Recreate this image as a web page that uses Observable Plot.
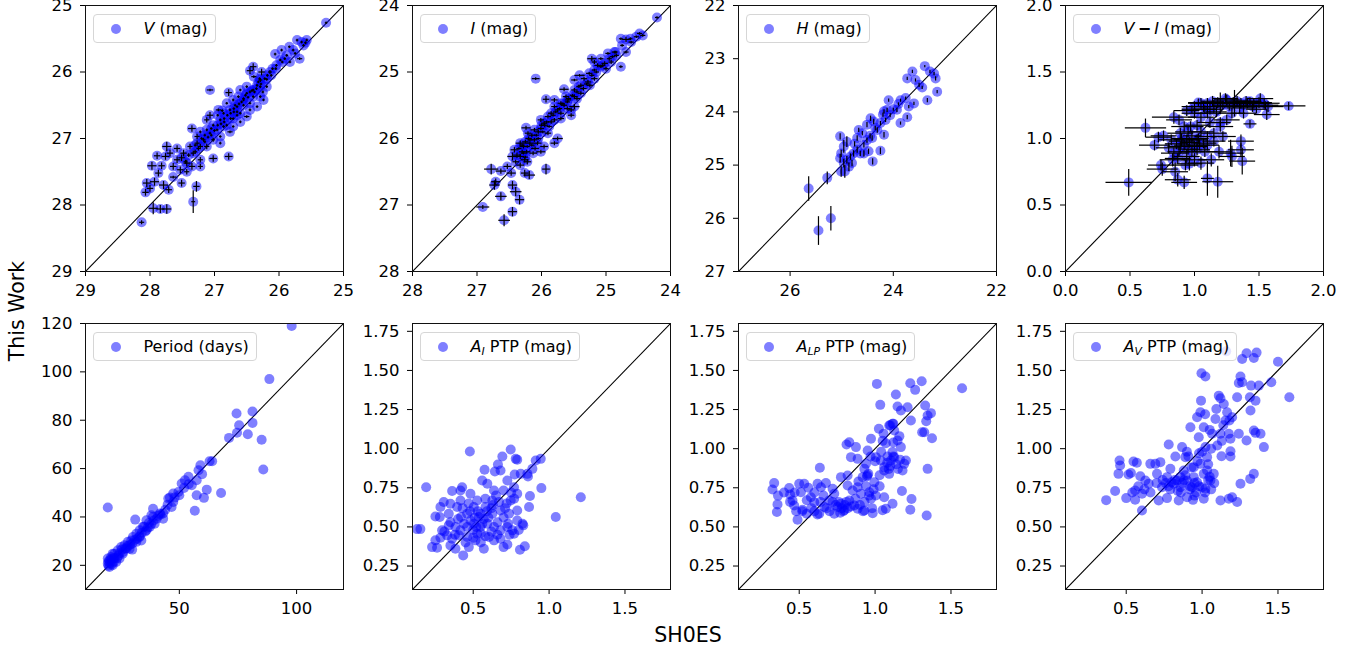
<!DOCTYPE html>
<html>
<head>
<meta charset="utf-8">
<script src="https://cdn.jsdelivr.net/npm/d3@7"></script>
<script src="https://cdn.jsdelivr.net/npm/@observablehq/plot@0.6"></script>
<style>
  html, body { margin: 0; padding: 0; background: #fff; }
  #fig { position: relative; width: 1360px; height: 649px; overflow: hidden; font-family: "DejaVu Sans", sans-serif; }
  .panel { position: absolute; }
  .legend { position: absolute; height: 29px; box-sizing: border-box; border: 1px solid #d6d6d6; border-radius: 4px;
            background: rgba(255,255,255,0.8); display: flex; align-items: center; padding: 0 7px 0 17px;
            font-size: 16px; color: #000; white-space: nowrap; }
  .legend .mk { width: 10px; height: 10px; border-radius: 50%; background: rgba(0,0,255,0.5); flex: none; }
  .legend .tx { margin-left: 23px; }
  .legend sub { font-size: 68%; vertical-align: -0.3em; line-height: 0; }
  .axlabel { position: absolute; font-size: 20.5px; line-height: 1; white-space: nowrap; color: #000; }
</style>
</head>
<body>
<div id="fig"></div>
<script>
// ---------- Data (x = SH0ES, y = This Work) ----------
const V_x = [25.27,25.65,25.72,25.59,25.84,25.78,25.68,25.83,25.91,25.98,
  26.06,26.04,26.45,26.27,26.39,26.19,26.34,26.60,26.50,26.40,
  26.29,26.71,26.55,26.45,26.65,26.76,26.86,26.94,26.60,26.50,
  26.71,26.91,26.81,27.02,27.07,26.78,27.07,27.12,27.22,27.35,
  27.27,27.17,27.02,26.91,26.76,26.78,27.02,27.38,27.48,27.33,
  27.22,27.43,27.58,27.64,27.53,27.43,27.35,27.74,27.89,27.76,
  27.97,27.82,28.05,27.93,28.00,28.07,27.79,27.71,27.64,27.51,
  27.95,27.84,27.74,27.33,27.28,28.13,27.87,27.22,27.12,27.58,
  26.96,26.86,26.71,26.60,26.65,26.45,26.34,26.24,26.40,26.29,
  26.19,26.50,26.63,26.81,26.91,27.07,27.12,27.27,27.51,27.69,
  27.22,26.40,26.14,26.29,25.96,25.57,
  26.85,26.70,26.55,26.95,27.05,26.30,26.25,27.15,27.30,26.05,
  26.90,26.85,26.80,26.75,26.70,26.68,26.62,26.58,26.55,26.52,
  26.48,26.45,26.42,26.38,26.35,26.32,26.28,26.22,26.18,26.12,
  26.10,27.00,27.05,27.10,27.15,27.20,27.25,27.30,27.40,27.45,
  26.75,26.65,26.95,26.88,25.88,25.95,25.75,25.62];
const V_y = [25.26,25.55,25.52,25.56,25.62,25.67,25.80,25.85,25.80,25.82,
  25.73,25.90,25.98,26.00,26.07,26.11,26.20,26.27,26.32,26.37,
  26.37,26.42,26.42,26.47,26.52,26.57,26.62,26.57,26.62,26.67,
  26.70,26.72,26.80,26.80,26.27,26.31,26.65,26.87,26.90,26.85,
  26.97,27.02,27.02,27.07,26.90,27.27,27.30,27.12,27.22,27.22,
  27.32,27.37,27.32,27.42,27.47,27.50,27.42,27.12,27.26,27.27,
  27.41,27.41,27.67,27.65,27.75,27.81,27.70,27.77,27.58,27.67,
  28.05,28.06,28.06,27.95,27.72,28.26,27.52,27.12,27.12,27.15,
  26.87,26.82,26.82,26.75,26.60,26.57,26.52,26.42,26.27,26.22,
  26.22,26.22,26.37,26.47,26.97,26.92,26.72,27.07,27.29,27.22,
  27.42,25.92,26.00,26.12,25.67,25.52,
  26.70,26.55,26.50,26.80,26.95,26.10,26.30,26.95,27.10,25.95,
  26.78,26.75,26.65,26.62,26.60,26.50,26.48,26.45,26.40,26.35,
  26.38,26.30,26.28,26.30,26.25,26.15,26.18,26.10,26.05,26.05,
  25.95,26.88,26.85,26.98,27.05,27.00,27.15,27.20,27.25,27.35,
  26.70,26.65,26.65,26.58,25.75,25.85,25.72,25.60];
const V_ex = [.02,.02,.02,.02,.02,.02,.04,.02,.02,.02,
  .02,.02,.05,.05,.04,.02,.02,.02,.02,.02,
  .02,.02,.02,.02,.02,.02,.02,.04,.02,.04,
  .02,.02,.02,.02,.05,.05,.05,.02,.02,.06,
  .04,.03,.03,.02,.04,.06,.06,.04,.05,.04,
  .04,.05,.05,.05,.05,.04,.05,.07,.05,.06,
  .07,.05,.06,.07,.05,.05,.07,.05,.05,.05,
  .07,.06,.07,.03,.05,.04,.05,.04,.04,.05,
  .02,.02,.02,.02,.02,.02,.02,.02,.02,.02,
  .02,.02,.02,.02,.02,.02,.04,.04,.05,.05,
  .04,.05,.03,.03,.02,.02,
  .02,.02,.02,.02,.02,.02,.02,.02,.02,.02,
  .02,.02,.02,.02,.02,.02,.02,.02,.02,.02,
  .02,.02,.02,.02,.02,.02,.02,.02,.02,.02,
  .02,.02,.02,.02,.02,.02,.03,.03,.03,.03,
  .02,.02,.02,.02,.02,.02,.02,.02];
const V_ey = [.02,.02,.02,.02,.02,.02,.02,.02,.02,.02,
  .02,.02,.05,.05,.02,.02,.02,.02,.02,.02,
  .02,.02,.02,.02,.02,.02,.02,.02,.02,.02,
  .02,.02,.02,.02,.02,.05,.05,.02,.02,.05,
  .04,.03,.03,.02,.02,.05,.05,.04,.05,.04,
  .04,.05,.05,.05,.05,.04,.05,.07,.05,.05,
  .06,.05,.06,.06,.05,.05,.06,.05,.02,.05,
  .09,.06,.07,.17,.08,.03,.05,.04,.04,.05,
  .02,.02,.02,.02,.02,.02,.02,.02,.02,.02,
  .02,.02,.02,.02,.02,.02,.04,.04,.05,.05,
  .04,.05,.03,.03,.02,.02,
  .02,.02,.02,.02,.02,.02,.02,.02,.02,.02,
  .02,.02,.02,.02,.02,.02,.02,.02,.02,.02,
  .02,.02,.02,.02,.02,.02,.02,.02,.02,.02,
  .02,.02,.02,.02,.02,.02,.03,.03,.03,.03,
  .02,.02,.02,.02,.02,.02,.02,.02];

const I_x = [24.21,24.77,24.69,24.61,24.53,24.48,24.43,24.69,24.77,24.97,
  24.90,25.08,25.22,24.87,25.08,25.18,25.26,25.41,25.49,26.09,
  25.65,25.93,25.80,25.70,25.59,25.49,25.39,25.54,25.75,25.85,
  25.49,25.54,25.80,25.96,26.01,25.90,26.24,26.11,25.75,26.01,
  26.18,26.28,26.33,26.23,26.13,26.45,26.78,26.63,26.71,26.73,
  26.53,26.47,26.45,26.40,26.34,26.63,26.19,25.93,26.91,26.58,
  26.45,26.21,26.11,26.01,25.90,25.70,25.80,25.62,25.49,25.39,
  25.28,25.18,25.34,25.13,25.02,24.92,24.84,25.18,26.33,26.26,
  26.33,26.42,26.06,25.96,25.80,26.26,
  26.20,26.15,26.30,26.25,26.05,25.95,25.85,25.65,25.60,25.45,
  25.35,25.25,25.00,24.95,26.38,26.10,25.70,26.22,
  26.35,26.30,26.28,26.22,26.18,26.15,26.08,26.05,26.00,25.98,
  25.92,25.88,25.82,25.78,25.72,25.68,25.60,25.58,25.52,25.45,
  25.42,25.30,25.22,25.15,25.05,24.85,24.75,24.62,26.40,26.25];
const I_y = [24.18,24.50,24.51,24.55,24.47,24.42,24.45,24.70,24.92,24.72,
  24.77,24.80,24.80,24.70,24.92,24.97,25.02,25.05,25.12,25.10,
  25.26,25.41,25.42,25.47,25.42,25.37,25.32,25.57,25.57,25.62,
  25.52,25.65,25.72,25.77,25.85,25.92,25.84,25.87,26.00,26.20,
  26.07,26.12,26.07,26.20,26.22,26.27,26.46,26.49,26.65,26.70,
  26.42,26.52,26.70,26.80,26.92,26.87,26.55,26.46,27.03,27.23,
  27.10,25.92,26.02,25.72,25.67,25.62,25.52,25.37,25.27,25.20,
  25.15,25.10,25.10,24.90,24.87,24.85,24.75,24.85,26.27,26.32,
  26.40,26.17,26.07,26.12,26.07,26.52,
  26.00,25.95,26.20,26.05,25.90,25.80,25.75,25.50,25.55,25.40,
  25.25,25.20,24.95,24.80,26.25,26.15,25.70,26.35,
  26.15,26.10,26.22,26.12,26.02,26.10,25.95,26.00,25.80,25.90,
  25.75,25.82,25.65,25.60,25.55,25.48,25.45,25.40,25.35,25.30,
  25.22,25.18,25.05,25.00,24.90,24.70,24.60,24.50,26.35,26.28];
const I_ex = [.03,.03,.06,.04,.04,.04,.04,.04,.03,.04,
  .04,.04,.07,.04,.04,.04,.05,.08,.05,.06,
  .07,.05,.05,.05,.05,.05,.05,.05,.05,.05,
  .08,.05,.05,.05,.05,.05,.07,.06,.08,.07,
  .06,.06,.07,.06,.06,.08,.11,.08,.07,.08,
  .06,.07,.07,.09,.07,.09,.09,.06,.10,.09,
  .07,.05,.05,.05,.05,.05,.05,.05,.05,.05,
  .05,.05,.05,.05,.05,.04,.04,.04,.06,.06,
  .06,.06,.06,.06,.06,.06,
  .05,.05,.05,.05,.05,.05,.05,.05,.05,.05,
  .05,.05,.04,.04,.06,.06,.05,.06,
  .04,.04,.04,.04,.04,.04,.04,.04,.04,.04,
  .04,.04,.04,.04,.04,.04,.04,.04,.04,.04,
  .04,.04,.04,.04,.04,.03,.03,.03,.05,.04];
const I_ey = [.02,.02,.04,.02,.02,.02,.02,.02,.02,.02,
  .02,.02,.04,.02,.02,.02,.02,.02,.02,.02,
  .03,.05,.03,.03,.03,.03,.03,.03,.03,.03,
  .04,.03,.03,.03,.03,.03,.03,.03,.03,.03,
  .03,.03,.04,.03,.03,.06,.08,.04,.05,.07,
  .04,.04,.06,.07,.07,.06,.06,.08,.03,.09,
  .07,.03,.03,.03,.03,.03,.03,.03,.03,.03,
  .03,.03,.03,.03,.03,.03,.03,.03,.04,.04,
  .04,.04,.03,.03,.03,.05,
  .03,.03,.03,.03,.03,.03,.03,.03,.03,.03,
  .03,.03,.03,.03,.04,.03,.03,.04,
  .02,.02,.02,.02,.02,.02,.02,.02,.02,.02,
  .02,.02,.02,.02,.02,.02,.02,.02,.02,.02,
  .02,.02,.02,.02,.02,.02,.02,.02,.03,.02];

const H_x = [23.39,23.29,23.63,23.21,23.18,23.73,23.57,23.50,23.44,23.15,
  23.34,23.60,23.70,23.86,23.76,23.93,24.09,23.73,23.86,24.12,
  24.18,24.06,24.15,24.25,24.18,24.38,24.44,24.51,24.31,24.41,
  24.67,24.51,24.57,24.70,24.25,24.40,24.48,24.57,24.70,24.77,
  24.83,24.90,24.96,25.03,24.96,24.90,25.01,25.03,24.86,25.01,
  24.94,24.80,24.64,25.28,25.64,25.21,25.45,
  24.60,24.35,24.20,24.00,23.90,24.45,24.75];
const H_y = [23.14,23.24,23.24,23.28,23.37,23.37,23.40,23.49,23.54,23.62,
  23.78,23.84,23.90,23.78,23.74,23.96,23.78,24.10,24.21,23.96,
  23.99,24.06,24.15,24.21,24.43,24.18,24.12,24.24,24.34,24.49,
  24.34,24.53,24.62,24.49,24.73,24.93,24.74,24.78,24.71,24.78,
  24.84,24.90,24.96,24.46,24.65,24.56,24.78,24.87,25.03,25.12,
  25.12,24.96,24.78,25.24,25.44,26.00,26.23,
  24.40,24.30,24.05,23.95,23.85,24.45,24.60];
const H_ey = [.02,.03,.03,.03,.04,.03,.03,.04,.03,.03,
  .04,.03,.03,.03,.03,.04,.03,.04,.03,.04,
  .04,.04,.04,.04,.05,.05,.05,.05,.05,.05,
  .04,.05,.05,.05,.06,.06,.05,.06,.06,.06,
  .06,.07,.08,.06,.12,.10,.07,.08,.08,.10,
  .12,.06,.05,.12,.23,.23,.27,
  .04,.04,.04,.03,.03,.05,.05];

const VI_x = [0.49,0.62,0.69,0.72,0.76,0.74,0.75,0.84,0.85,0.87,
  0.92,0.96,0.87,0.89,0.84,0.89,0.94,1.00,1.02,0.97,
  1.00,1.05,1.10,1.15,1.07,1.00,0.94,1.05,1.10,1.20,
  1.25,1.24,1.31,1.36,1.41,1.46,1.51,1.54,1.57,1.56,
  1.73,1.43,1.38,1.29,1.25,1.20,1.15,1.10,1.07,1.02,
  1.05,1.13,1.19,1.10,1.18,1.28,1.29,1.36,1.36,1.37,
  1.22,0.88,0.92,0.82,0.80,0.83,0.94,1.00,
  1.12,1.18,1.30,1.45,1.35,1.02,0.95,0.90,1.05,1.12,1.08,0.98,0.93,1.50,1.40,
  0.98,1.03,1.08,1.14,1.22,1.27,1.33,1.38,1.43,1.48,1.55,0.90,0.92,0.96,0.98,
  1.03,0.86,0.88,0.95,1.04,1.10,1.15,1.20,1.17];
const VI_y = [0.67,1.08,0.95,1.01,1.02,0.80,0.77,1.16,0.75,0.69,
  0.67,0.81,0.85,0.94,0.89,1.04,0.99,0.94,0.99,1.09,
  1.19,1.16,1.19,1.24,1.24,1.24,1.21,1.265,1.265,1.265,
  1.29,1.30,1.265,1.265,1.265,1.265,1.30,1.265,1.24,1.18,
  1.245,1.11,1.19,1.19,1.14,1.09,1.04,1.015,0.965,0.915,
  0.815,0.84,0.90,0.70,0.675,0.89,0.865,0.98,0.915,0.83,
  1.015,1.14,1.09,0.99,0.93,0.84,0.865,0.84,
  1.22,1.27,1.27,1.24,1.23,1.10,1.05,0.98,1.05,1.12,0.90,0.90,0.80,1.27,1.28,
  1.22,1.27,1.22,1.28,1.25,1.24,1.28,1.25,1.28,1.22,1.25,1.00,0.95,0.97,1.02,
  1.00,0.96,0.90,0.92,0.95,0.95,0.98,1.12,1.20];
const VI_ex = [.18,.16,.12,.10,.10,.10,.12,.17,.10,.10,
  .10,.10,.10,.10,.10,.10,.10,.10,.08,.10,
  .10,.10,.10,.10,.10,.10,.10,.10,.10,.10,
  .10,.10,.10,.10,.10,.12,.10,.12,.12,.10,
  .13,.05,.10,.10,.10,.10,.10,.10,.10,.10,
  .10,.10,.10,.05,.12,.10,.10,.10,.10,.10,
  .10,.10,.10,.10,.10,.10,.10,.10,
  .10,.10,.10,.10,.10,.10,.10,.10,.10,.10,.10,.10,.10,.10,.10,
  .08,.08,.09,.09,.08,.09,.09,.08,.09,.08,.10,.08,.08,.07,.07,
  .08,.09,.09,.08,.08,.09,.09,.08,.08];
const VI_ey = [.10,.07,.04,.04,.04,.04,.05,.05,.07,.05,
  .05,.05,.04,.04,.04,.04,.04,.04,.04,.04,
  .04,.04,.04,.05,.04,.04,.04,.04,.04,.08,
  .04,.04,.10,.04,.04,.04,.04,.04,.04,.04,
  .03,.03,.04,.04,.04,.04,.04,.04,.04,.04,
  .05,.05,.05,.13,.12,.10,.08,.05,.05,.10,
  .04,.04,.04,.04,.04,.05,.05,.05,
  .04,.04,.04,.04,.04,.04,.04,.04,.04,.04,.04,.04,.04,.04,.04,
  .03,.03,.03,.04,.03,.03,.04,.03,.03,.03,.03,.04,.04,.04,.04,
  .04,.04,.04,.04,.04,.04,.04,.04,.04];

const P_x = [97.9,88.4,74.4,81.2,81.2,75.5,74.6,71.2,79.2,85.1,
  85.8,62.9,59.0,59.7,61.7,60.5,57.4,67.8,56.6,55.3,
  53.9,52.4,51.0,57.4,58.2,49.6,47.4,47.4,45.3,46.7,
  43.1,41.7,38.8,38.1,36.0,31.2,19.5,34.5,33.1,31.7,
  30.2,29.5,28.1,26.6,29.9,33.8,36.0,37.4,39.5,40.3,
  25.2,23.8,22.3,20.9,20.2,19.5,20.2,21.6,23.1,24.5,
  25.9,22.3,19.5,21.6,28.8,31.7,33.1,38.8,43.1,
  27.0,30.0,32.0,34.0,35.5,37.0,39.0,41.0,44.0,48.0,
  50.0,54.0,24.0,22.0,21.0,26.0,28.0,19.8,64.0,
  20.5,21.2,22.0,23.5,24.5,25.5,27.5,29.0,31.0,33.0,
  35.0,36.5,38.0,42.0,45.0,46.0,52.0,19.8];
const P_y = [119.0,97.0,82.8,83.6,78.9,77.9,74.8,72.7,74.2,71.9,
  59.6,63.0,61.4,57.7,51.3,47.9,49.0,49.9,42.6,53.1,
  56.6,55.2,53.8,55.2,59.3,50.3,49.7,46.2,47.6,44.1,
  39.3,41.4,43.4,40.7,38.6,38.9,43.9,35.9,34.5,33.1,
  31.7,30.3,29.7,28.3,26.5,30.3,34.5,35.9,37.2,39.3,
  27.6,26.2,24.8,23.4,22.1,20.7,19.3,20.0,21.4,22.8,
  24.8,22.8,22.8,24.8,26.9,29.7,31.7,40.0,41.4,
  27.0,29.0,31.0,33.5,34.0,37.5,38.5,40.5,43.0,48.0,
  49.0,53.5,24.0,21.5,22.5,25.5,28.0,21.5,63.0,
  21.0,20.5,23.0,23.0,25.0,26.5,27.0,28.5,30.5,32.0,
  36.0,35.5,37.0,41.0,45.0,48.0,52.0,19.8];

const AI_x = [0.152,0.13,0.19,0.478,0.747,0.692,0.79,0.78,0.945,0.912,
  0.89,0.857,0.813,0.773,0.663,0.68,0.575,0.643,0.725,0.861,
  0.949,0.874,0.868,1.209,1.044,0.79,0.747,0.769,0.70,0.637,
  0.593,0.559,0.526,0.482,0.427,0.361,0.306,0.284,0.251,0.28,
  0.339,0.35,0.394,0.416,0.46,0.504,0.548,0.581,0.626,0.68,
  0.736,0.79,0.825,0.83,0.80,0.758,0.725,0.68,0.637,0.593,
  0.548,0.504,0.46,0.416,0.383,0.339,0.295,0.328,0.284,0.251,
  0.229,0.262,0.35,0.383,0.434,0.471,0.515,0.57,0.637,0.70,
  0.725,0.808,0.84,0.68,0.604,0.526,0.46,0.405,0.361,0.769,
  0.79,0.626,0.537,0.482,0.42,0.416,
  0.50,0.52,0.55,0.57,0.60,0.62,0.48,0.44,0.53,0.66,
  0.70,0.58,0.65,0.72,0.75,0.38,0.45,0.55,0.62,0.74,
  0.40,0.43,0.47,0.51,0.56,0.59,0.63,0.67,0.71,0.77,0.35,0.31,0.50,0.58,0.66,0.73];
const AI_y = [0.486,0.486,0.754,0.982,0.995,0.95,0.93,0.935,0.935,0.925,
  0.871,0.839,0.839,0.835,0.899,0.86,0.865,0.854,0.797,0.822,
  0.748,0.697,0.627,0.69,0.563,0.712,0.669,0.754,0.733,0.733,
  0.776,0.797,0.669,0.712,0.754,0.729,0.659,0.627,0.567,0.563,
  0.584,0.648,0.627,0.669,0.584,0.627,0.584,0.627,0.584,0.605,
  0.584,0.541,0.52,0.51,0.48,0.478,0.499,0.478,0.499,0.52,
  0.499,0.52,0.499,0.478,0.499,0.51,0.478,0.446,0.431,0.414,
  0.371,0.367,0.382,0.36,0.318,0.371,0.414,0.36,0.414,0.371,
  0.388,0.354,0.376,0.424,0.435,0.457,0.435,0.446,0.424,0.457,
  0.605,0.669,0.563,0.541,0.563,0.733,
  0.48,0.50,0.46,0.55,0.56,0.62,0.60,0.52,0.60,0.53,
  0.56,0.68,0.70,0.65,0.72,0.45,0.40,0.40,0.47,0.45,
  0.55,0.62,0.65,0.56,0.52,0.60,0.64,0.66,0.62,0.68,0.53,0.47,0.43,0.44,0.45,0.52];

const ALP_x = [0.324,0.335,0.353,0.357,0.434,0.44,0.456,0.467,0.489,0.50,
  0.511,0.533,0.522,0.55,0.577,0.599,0.636,0.621,0.643,0.676,
  0.632,0.665,0.698,0.731,0.731,0.72,0.775,0.819,0.812,0.83,
  0.874,0.885,0.841,0.775,0.797,0.753,0.83,0.852,0.819,0.885,
  0.907,0.918,0.929,0.94,0.951,0.973,0.955,0.946,0.995,0.962,
  0.973,0.984,0.929,0.885,1.012,1.034,1.025,1.056,1.071,1.082,
  1.005,1.038,1.06,1.093,1.06,1.126,1.104,1.115,1.093,1.115,
  1.126,1.148,1.17,1.165,1.192,1.181,1.203,1.137,1.148,1.17,
  1.214,1.236,1.232,1.264,1.307,1.324,1.33,1.346,1.368,1.337,
  1.375,1.346,1.177,1.232,1.24,1.34,1.573,1.06,1.049,1.071,
  1.115,1.005,0.863,
  0.78,0.80,0.79,0.76,0.82,0.95,0.96,0.93,0.98,0.92,
  0.70,0.66,0.60,0.55,0.47,1.10,1.12,1.09,1.03,1.10,
  1.15,0.60,0.52,0.56,1.31,
  0.74,0.77,0.81,0.84,0.87,0.90,0.72,0.68,0.64,0.58,
  0.62,0.48,0.44,1.00,1.04,1.08,1.12,1.14,0.97,0.94,
  0.99,1.03,0.89,1.12,1.16,1.05,0.40,0.36];
const ALP_y = [0.739,0.78,0.595,0.644,0.748,0.707,0.669,0.637,0.546,0.776,
  0.722,0.776,0.61,0.584,0.69,0.658,0.878,0.776,0.754,0.78,
  0.584,0.627,0.669,0.712,0.584,0.744,0.818,0.829,1.027,1.041,
  1.01,0.935,0.946,0.648,0.606,0.627,0.669,0.733,0.765,0.754,
  0.712,0.818,0.871,0.903,0.988,1.063,0.84,0.822,0.786,0.722,
  0.68,0.588,0.605,0.616,1.414,1.28,1.127,1.095,1.035,0.95,
  0.946,0.924,0.882,0.839,0.861,0.946,0.924,0.978,1.148,1.159,
  1.116,1.052,1.01,0.929,0.903,0.861,0.924,1.346,1.269,1.244,
  1.265,1.18,1.418,1.376,1.431,1.105,1.276,1.212,1.227,1.175,
  1.067,0.871,0.729,0.61,0.678,0.573,1.386,0.69,0.606,0.616,
  0.648,0.701,0.637,
  0.62,0.64,0.60,0.66,0.62,0.83,0.70,0.66,0.62,0.60,
  0.60,0.70,0.72,0.67,0.72,1.15,1.16,0.87,0.83,0.89,
  0.87,0.60,0.60,0.75,1.105,
  0.64,0.59,0.66,0.63,0.68,0.64,0.66,0.62,0.66,0.62,
  0.58,0.60,0.66,0.92,0.98,0.91,0.95,0.90,0.95,0.76,
  0.74,0.76,0.79,1.04,1.08,1.05,0.72,0.70];

const AV_x = [0.368,0.427,0.456,0.46,0.449,0.50,0.515,0.531,0.548,0.57,
  0.559,0.559,0.593,0.604,0.604,0.626,0.648,0.659,0.692,0.714,
  0.703,0.725,0.736,0.769,0.769,0.78,0.791,0.80,0.824,0.846,
  0.857,0.868,0.89,0.879,0.901,0.923,0.94,0.934,0.945,0.967,
  0.978,0.993,0.996,1.022,0.989,1.011,1.022,1.033,1.011,1.022,
  1.011,1.055,1.077,1.066,1.088,1.094,1.121,1.11,1.143,1.165,
  1.154,1.121,1.176,1.128,1.121,1.187,1.187,1.187,1.198,1.231,
  1.242,1.253,1.264,1.293,1.341,1.359,1.159,1.264,1.323,1.374,
  1.456,1.50,1.575,1.319,1.352,1.315,1.341,1.352,1.385,1.407,
  1.293,1.242,1.253,1.317,1.341,1.231,1.198,1.176,
  0.813,0.835,0.857,0.901,0.945,0.967,1.00,1.033,0.989,0.95,
  0.88,0.92,0.96,1.04,0.86,0.78,0.74,1.06,0.98,0.90,
  0.76,0.79,0.82,0.84,0.87,0.89,0.92,0.95,0.98,1.02,
  1.05,1.08,0.70,0.66,0.62,0.58,0.54,0.93,0.97,1.00,
  1.04,1.06,1.10,1.14,1.18,1.05,1.02,1.13,0.91];
const AV_y = [0.671,0.729,0.924,0.893,0.839,0.684,0.835,0.844,0.918,0.91,
  0.733,0.674,0.824,0.605,0.712,0.797,0.776,0.903,0.903,0.669,
  0.839,0.914,0.754,0.818,0.684,1.027,0.871,0.786,0.95,0.669,
  0.754,1.01,0.946,0.861,0.69,1.137,0.673,0.754,0.882,1.201,
  1.073,1.307,1.482,1.461,1.233,1.137,1.01,0.946,0.839,0.744,
  0.68,0.797,0.839,1.095,1.19,1.254,1.322,1.339,1.286,1.233,
  1.18,1.095,1.095,0.952,0.669,1.063,0.984,0.95,1.201,1.329,
  1.42,1.461,1.573,1.61,1.58,1.614,1.622,1.425,1.403,1.403,
  1.425,1.556,1.329,1.244,1.307,1.329,1.116,1.101,1.095,1.01,
  1.052,1.095,0.776,0.807,0.839,0.659,0.69,0.68,
  0.776,0.797,0.818,0.797,0.818,0.786,0.754,0.861,0.903,0.78,
  0.80,0.76,0.72,0.80,0.72,0.76,0.80,0.74,0.97,0.98,
  0.78,0.74,0.80,0.73,0.78,0.83,0.74,0.70,0.76,0.72,
  0.82,0.78,0.78,0.72,0.74,0.76,0.72,0.88,0.92,0.98,
  0.90,1.00,1.02,1.15,1.18,1.12,1.22,1.05,0.95];

// ---------- Axis ticks ----------
const ticksV = [29, 28, 27, 26, 25];
const ticksI = [28, 27, 26, 25, 24];
const ticksHx = [26, 24, 22];
const ticksHy = [22, 23, 24, 25, 26, 27];
const ticksVI = [0, 0.5, 1, 1.5, 2];
const ticksPx = [50, 100];
const ticksPy = [20, 40, 60, 80, 100, 120];
const ticksAx = [0.5, 1.0, 1.5];
const ticksAy = [0.25, 0.5, 0.75, 1.0, 1.25, 1.5, 1.75];

// ---------- Layout ----------
const colLeft = [85, 412, 738, 1065];
const rowTop = [5, 323];
const W = 258, H = 266, ML = 60, MR = 12, MT = 10, MB = 44;

const panels = [
  {x: V_x, y: V_y, ex: V_ex, ey: V_ey, dom: [29, 25], xt: ticksV, yt: ticksV, fx: d3.format("d"), fy: d3.format("d"),
   col: 0, row: 0, label: '<i>V</i> (mag)'},
  {x: I_x, y: I_y, ex: I_ex, ey: I_ey, dom: [28, 24], xt: ticksI, yt: ticksI, fx: d3.format("d"), fy: d3.format("d"),
   col: 1, row: 0, label: '<i>I</i> (mag)'},
  {x: H_x, y: H_y, ex: null, ey: H_ey, dom: [27, 22], xt: ticksHx, yt: ticksHy, fx: d3.format("d"), fy: d3.format("d"),
   col: 2, row: 0, label: '<i>H</i> (mag)'},
  {x: VI_x, y: VI_y, ex: VI_ex, ey: VI_ey, dom: [0, 2], xt: ticksVI, yt: ticksVI, fx: d3.format(".1f"), fy: d3.format(".1f"),
   col: 3, row: 0, label: '<i>V</i>&#8201;<b>&#8722;</b>&#8201;<i>I</i> (mag)'},
  {x: P_x, y: P_y, dom: [10, 120], xt: ticksPx, yt: ticksPy, fx: d3.format("d"), fy: d3.format("d"),
   col: 0, row: 1, label: 'Period (days)'},
  {x: AI_x, y: AI_y, dom: [0.1, 1.8], xt: ticksAx, yt: ticksAy, fx: d3.format(".1f"), fy: d3.format(".2f"),
   col: 1, row: 1, label: '<i>A</i><sub><i>I</i></sub> PTP (mag)'},
  {x: ALP_x, y: ALP_y, dom: [0.1, 1.8], xt: ticksAx, yt: ticksAy, fx: d3.format(".1f"), fy: d3.format(".2f"),
   col: 2, row: 1, label: '<i>A</i><sub><i>LP</i></sub> PTP (mag)'},
  {x: AV_x, y: AV_y, dom: [0.1, 1.8], xt: ticksAx, yt: ticksAy, fx: d3.format(".1f"), fy: d3.format(".2f"),
   col: 3, row: 1, label: '<i>A</i><sub><i>V</i></sub> PTP (mag)'}
];

const fig = document.getElementById("fig");

for (const p of panels) {
  const rows = p.x.map((v, i) => ({
    x: v, y: p.y[i],
    ex: p.ex ? p.ex[i] : 0,
    ey: p.ey ? p.ey[i] : 0
  }));
  const marks = [
    Plot.link([p.dom], {x1: d => d[0], y1: d => d[0], x2: d => d[1], y2: d => d[1],
      stroke: "black", strokeWidth: 1.1, clip: true}),
    Plot.dot(rows, {x: "x", y: "y", r: 5, fill: "#0000ff", fillOpacity: 0.5, stroke: "none", clip: true})
  ];
  if (p.ex) marks.push(Plot.link(rows, {x1: d => d.x - d.ex, x2: d => d.x + d.ex, y1: "y", y2: "y",
    stroke: "black", strokeWidth: 1.2, clip: true}));
  if (p.ey) marks.push(Plot.link(rows, {x1: "x", x2: "x", y1: d => d.y - d.ey, y2: d => d.y + d.ey,
    stroke: "black", strokeWidth: 1.2, clip: true}));
  marks.push(Plot.frame({stroke: "#111", strokeWidth: 1}));

  const svg = Plot.plot({
    width: W + ML + MR, height: H + MT + MB,
    marginLeft: ML, marginRight: MR, marginTop: MT, marginBottom: MB,
    style: {fontFamily: "DejaVu Sans", fontSize: "16.5px", color: "black", background: "transparent", overflow: "visible"},
    x: {domain: p.dom, ticks: p.xt, tickFormat: p.fx, tickSize: 5, tickPadding: 8, label: null},
    y: {domain: p.dom, ticks: p.yt, tickFormat: p.fy, tickSize: 5, tickPadding: 8, label: null},
    marks
  });
  const holder = document.createElement("div");
  holder.className = "panel";
  holder.style.left = (colLeft[p.col] - ML) + "px";
  holder.style.top = (rowTop[p.row] - MT) + "px";
  holder.appendChild(svg);
  fig.appendChild(holder);

  const lg = document.createElement("div");
  lg.className = "legend";
  lg.style.left = (colLeft[p.col] + 7.5) + "px";
  lg.style.top = (rowTop[p.row] + 9) + "px";
  lg.innerHTML = '<span class="mk"></span><span class="tx">' + p.label + '</span>';
  fig.appendChild(lg);
}

const yl = document.createElement("div");
yl.className = "axlabel";
yl.textContent = "This Work";
yl.style.left = "17px";
yl.style.top = "311px";
yl.style.transform = "translate(-50%,-50%) rotate(-90deg)";
fig.appendChild(yl);

const xl = document.createElement("div");
xl.className = "axlabel";
xl.textContent = "SH0ES";
xl.style.left = "688px";
xl.style.top = "625px";
xl.style.transform = "translateX(-50%)";
fig.appendChild(xl);
</script>
</body>
</html>
